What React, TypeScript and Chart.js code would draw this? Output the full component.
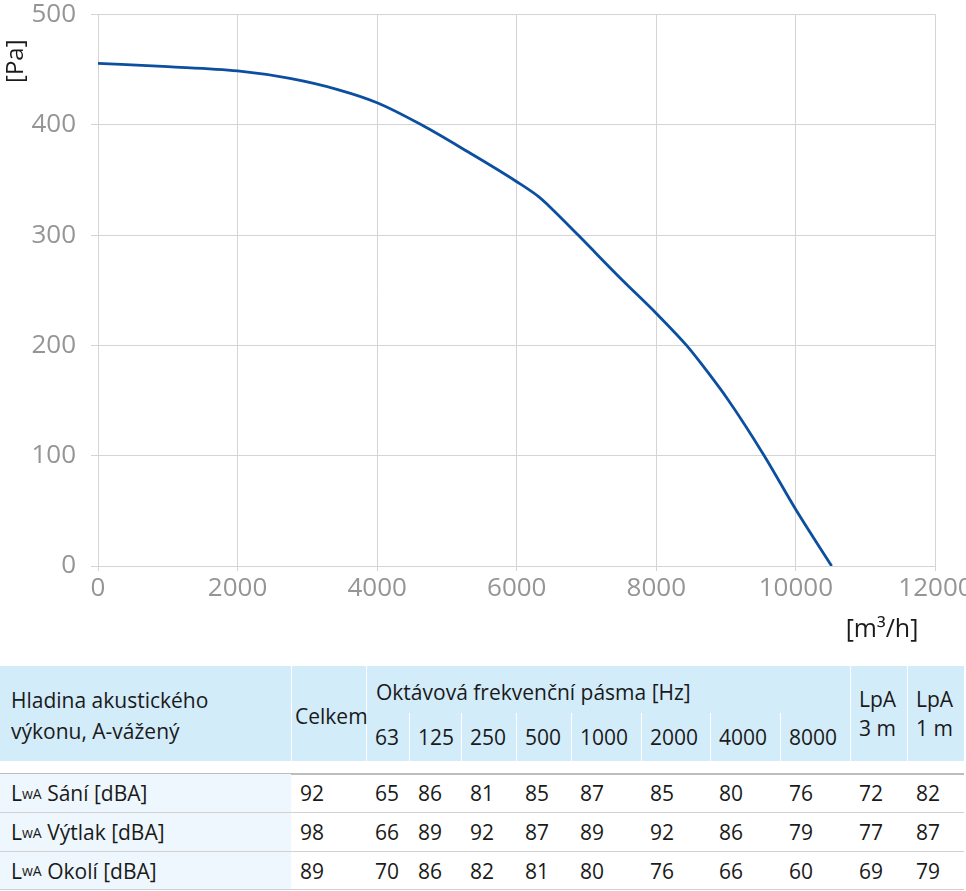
import React, { useEffect, useRef } from 'react';
import { Chart, registerables } from 'chart.js';

Chart.register(...registerables);

// ---- chart data ----
const FLOW = [0, 1000, 2000, 2750, 3460, 4000, 4634, 5300, 6000, 6330, 6450, 6879, 7500, 8000, 8433, 8624, 9030, 9546, 10000, 10512];
const PRESSURE = [455.7, 452.7, 448.8, 442, 431.5, 420, 400, 375.5, 348.4, 334, 327, 300, 260, 229, 200, 185, 150.5, 100, 51, 0];
const X_MIN = 0;
const X_MAX = 12000;
const X_STEP = 2000;
const Y_MIN = 0;
const Y_MAX = 500;
const Y_STEP = 100;
const X_TITLE = '[m³/h]';
const Y_TITLE = '[Pa]';

// ---- table data ----
const HEADER_LABEL = ['Hladina akustického', 'výkonu, A-vážený'];
const HEADER_TOTAL = 'Celkem';
const HEADER_BANDS = 'Oktávová frekvenční pásma [Hz]';
const BANDS = ['63', '125', '250', '500', '1000', '2000', '4000', '8000'];
const HEADER_LPA = [['LpA', '3 m'], ['LpA', '1 m']];
const ROW_LABELS = ['Sání [dBA]', 'Výtlak [dBA]', 'Okolí [dBA]'];
const TOTAL = [92, 98, 89];
const SANI = [65, 86, 81, 85, 87, 85, 80, 76];
const VYTLAK = [66, 89, 92, 87, 89, 92, 86, 79];
const OKOLI = [70, 86, 82, 81, 80, 76, 66, 60];
const LPA_3M = [72, 77, 69];
const LPA_1M = [82, 87, 79];

// ---- styling / layout ----
const FONT = '"Open Sans", sans-serif';
const TICK_COLOR = '#959595';
const GRID_COLOR = '#d4d4d4';
const LINE_COLOR = '#0c4fa0';
const TEXT_COLOR = '#1a1a1a';
const HEAD_BG = '#d3ecfa';
const FIRST_COL_BG = '#eef7fd';
const COL_W = [291, 75, 43, 52, 55, 55, 70, 69, 70, 70, 57, 57];

function PressureChart() {
  const ref = useRef<HTMLCanvasElement>(null);
  useEffect(() => {
    const chart = new Chart(ref.current as HTMLCanvasElement, {
      type: 'line',
      data: {
        datasets: [
          {
            data: FLOW.map((x, i) => ({ x, y: PRESSURE[i] })),
            borderColor: LINE_COLOR,
            borderWidth: 2.8,
            pointRadius: 0,
            cubicInterpolationMode: 'monotone',
            fill: false,
          },
        ],
      },
      options: {
        responsive: false,
        animation: false,
        devicePixelRatio: 1,
        layout: { padding: { left: 0, right: 30.5, top: 14.5, bottom: 0 } },
        plugins: { legend: { display: false }, tooltip: { enabled: false } },
        scales: {
          x: {
            type: 'linear',
            min: X_MIN,
            max: X_MAX,
            afterFit: (s: any) => {
              s.height = 84;
              s.paddingLeft = 0;
              s.paddingRight = 0;
            },
            ticks: {
              stepSize: X_STEP,
              color: TICK_COLOR,
              font: { size: 26, family: FONT },
              padding: 2,
              maxRotation: 0,
              autoSkip: false,
              callback: (v: any) => String(v),
            },
            grid: { color: GRID_COLOR, tickLength: 5, lineWidth: 1 },
            border: { color: GRID_COLOR },
            title: {
              display: true,
              text: X_TITLE + '  \u2009',
              align: 'end',
              color: TEXT_COLOR,
              font: { size: 25, family: FONT },
              padding: { top: 0, bottom: 5 },
            },
          },
          y: {
            min: Y_MIN,
            max: Y_MAX,
            afterFit: (s: any) => {
              s.width = 98;
              s.paddingTop = 0;
              s.paddingBottom = 0;
            },
            ticks: {
              stepSize: Y_STEP,
              color: TICK_COLOR,
              font: { size: 26, family: FONT, lineHeight: 1.1 },
              padding: 15,
              callback: (v: any) => String(v),
            },
            grid: { color: GRID_COLOR, tickLength: 7, lineWidth: 1 },
            border: { color: GRID_COLOR },
            title: {
              display: true,
              text: Y_TITLE + '    ',
              align: 'end',
              color: TEXT_COLOR,
              font: { size: 24, family: FONT },
              padding: { top: 2, bottom: 0 },
            },
          },
        },
      },
    } as any);
    return () => chart.destroy();
  }, []);
  return <canvas ref={ref} width={966} height={650} style={{ display: 'block', width: 966, height: 650 }} />;
}

function box(left: number, top: number, width: number, height: number, extra: React.CSSProperties = {}): React.CSSProperties {
  return {
    position: 'absolute',
    left,
    top,
    width,
    height,
    boxSizing: 'border-box',
    display: 'flex',
    flexDirection: 'column',
    justifyContent: 'center',
    whiteSpace: 'nowrap',
    ...extra,
  };
}

function AcousticTable() {
  const colX: number[] = [];
  COL_W.forEach((w, i) => colX.push(i === 0 ? 0 : colX[i - 1] + COL_W[i - 1]));
  const HT = 16; // header top
  const HB = 111; // header bottom
  const SPLIT = 63;
  const lines = [123, 162, 201, 239];
  const bandRows = [SANI, VYTLAK, OKOLI];
  const oktW = COL_W.slice(2, 10).reduce((a, b) => a + b, 0);

  const els: React.ReactNode[] = [];
  // header
  els.push(
    <div key="h0" style={box(0, HT, COL_W[0], HB - HT, { background: HEAD_BG, paddingLeft: 11, paddingTop: 4, lineHeight: '31px' })}>
      {HEADER_LABEL.map((t) => (
        <div key={t}>{t}</div>
      ))}
    </div>
  );
  els.push(
    <div key="h1" style={box(colX[1] + 1, HT, COL_W[1] - 1, HB - HT, { background: HEAD_BG, paddingLeft: 3, paddingTop: 4 })}>
      {HEADER_TOTAL}
    </div>
  );
  els.push(<div key="hb" style={box(colX[2] + 1, HT, oktW - 1, HB - HT, { background: HEAD_BG })} />);
  els.push(
    <div key="hbt" style={box(colX[2] + 1, HT, oktW - 1, SPLIT - HT + 4, { paddingLeft: 9 })}>
      {HEADER_BANDS}
    </div>
  );
  BANDS.forEach((b, i) => {
    const c = i + 2;
    if (i > 0) {
      els.push(<div key={'sep' + i} style={{ position: 'absolute', left: colX[c], top: SPLIT, width: 1, height: HB - SPLIT, background: '#fff' }} />);
    }
    els.push(
      <div key={'band' + i} style={box(colX[c] + 1, SPLIT, COL_W[c] - 1, HB - SPLIT, { paddingLeft: 8 })}>
        {b}
      </div>
    );
  });
  HEADER_LPA.forEach((l, i) => {
    const c = 10 + i;
    els.push(
      <div key={'lpa' + i} style={box(colX[c] + 1, HT, COL_W[c] - 1, HB - HT, { background: HEAD_BG, paddingLeft: 8, lineHeight: '29px' })}>
        {l.map((t) => (
          <div key={t}>{t}</div>
        ))}
      </div>
    );
  });

  // row lines
  lines.forEach((y, i) => {
    els.push(
      <div key={'line' + i} style={{ position: 'absolute', left: 0, top: y, width: 964, height: i === 0 ? 1.5 : 1, background: i === 0 ? '#bdbdbd' : '#d2d2d2' }} />
    );
  });

  ROW_LABELS.forEach((label, r) => {
    const top = lines[r] + 1;
    const h = lines[r + 1] - lines[r] - 1;
    els.push(
      <div key={'rl' + r} style={box(0, top, COL_W[0], h, { background: FIRST_COL_BG, paddingLeft: 11, flexDirection: 'row', alignItems: 'center', justifyContent: 'flex-start' })}>
        <span>L</span>
        <span style={{ fontSize: 14 }}>wA</span>
        <span>&nbsp;{label}</span>
      </div>
    );
    const values = [TOTAL[r], ...bandRows[r], LPA_3M[r], LPA_1M[r]];
    values.forEach((v, k) => {
      const c = k + 1;
      els.push(
        <div key={'v' + r + '_' + k} style={box(colX[c] + 1, top, COL_W[c] - 1, h, { paddingLeft: 8 })}>
          {v}
        </div>
      );
    });
  });

  return (
    <div style={{ position: 'relative', width: 966, height: 241, fontFamily: FONT, fontSize: 21, color: TEXT_COLOR }}>
      {els}
    </div>
  );
}

export default function App() {
  useEffect(() => {
    document.body.style.margin = '0';
  }, []);
  return (
    <div style={{ width: 966, background: '#fff' }}>
      <PressureChart />
      <AcousticTable />
    </div>
  );
}
